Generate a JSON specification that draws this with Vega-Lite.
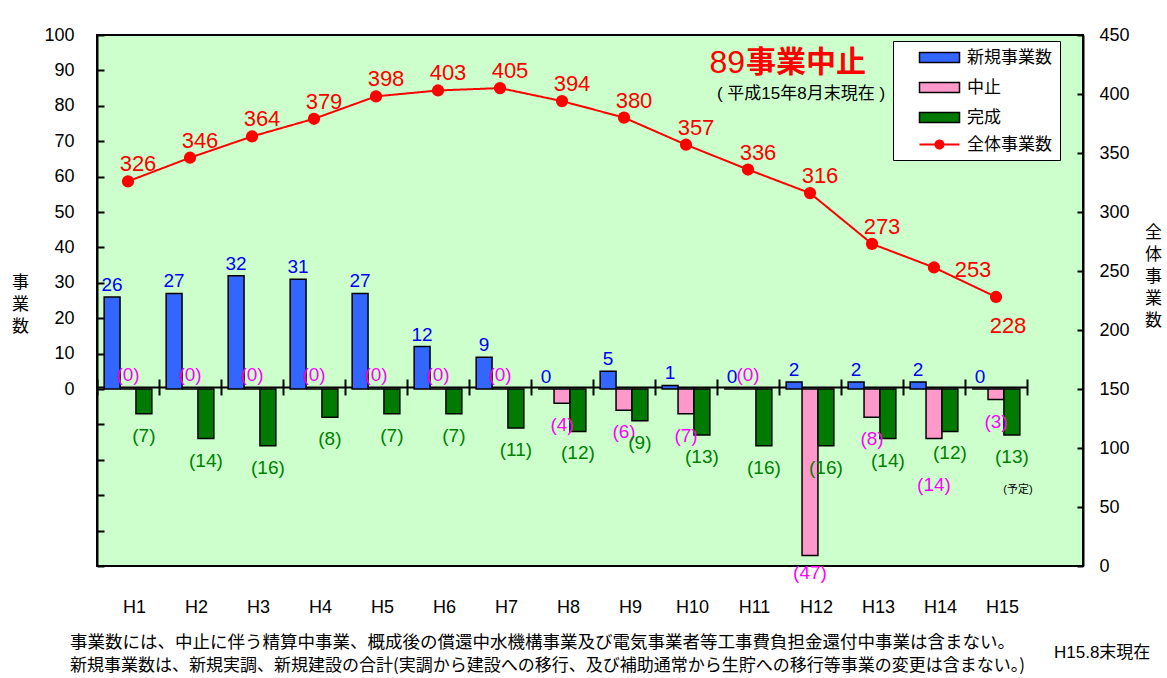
{
  "$schema": "https://vega.github.io/schema/vega-lite/v6.json",
  "width": 986,
  "height": 531,
  "autosize": "none",
  "padding": {"left": 97, "top": 35, "right": 84, "bottom": 112},
  "background": "white",
  "config": {
    "view": {"fill": "#CCFFCC", "stroke": "black", "strokeWidth": 2},
    "font": "Liberation Sans, Noto Sans CJK JP",
    "axis": {
      "grid": false,
      "domainColor": "black",
      "domainWidth": 2,
      "tickColor": "black",
      "tickWidth": 2,
      "labelColor": "black",
      "titleColor": "black",
      "labelFont": "Liberation Sans, Noto Sans CJK JP",
      "titleFont": "Noto Sans CJK JP",
      "titleFontWeight": "normal"
    },
    "text": {"font": "Liberation Sans, Noto Sans CJK JP"}
  },
  "datasets": {
    "bars": [
      {"year": "H1", "series": "新規事業数", "value": 26, "label": "26"},
      {"year": "H1", "series": "中止", "value": 0, "label": "(0)"},
      {"year": "H1", "series": "完成", "value": -7, "label": "(7)"},
      {"year": "H2", "series": "新規事業数", "value": 27, "label": "27"},
      {"year": "H2", "series": "中止", "value": 0, "label": "(0)"},
      {"year": "H2", "series": "完成", "value": -14, "label": "(14)"},
      {"year": "H3", "series": "新規事業数", "value": 32, "label": "32"},
      {"year": "H3", "series": "中止", "value": 0, "label": "(0)"},
      {"year": "H3", "series": "完成", "value": -16, "label": "(16)"},
      {"year": "H4", "series": "新規事業数", "value": 31, "label": "31"},
      {"year": "H4", "series": "中止", "value": 0, "label": "(0)"},
      {"year": "H4", "series": "完成", "value": -8, "label": "(8)"},
      {"year": "H5", "series": "新規事業数", "value": 27, "label": "27"},
      {"year": "H5", "series": "中止", "value": 0, "label": "(0)"},
      {"year": "H5", "series": "完成", "value": -7, "label": "(7)"},
      {"year": "H6", "series": "新規事業数", "value": 12, "label": "12"},
      {"year": "H6", "series": "中止", "value": 0, "label": "(0)"},
      {"year": "H6", "series": "完成", "value": -7, "label": "(7)"},
      {"year": "H7", "series": "新規事業数", "value": 9, "label": "9"},
      {"year": "H7", "series": "中止", "value": 0, "label": "(0)"},
      {"year": "H7", "series": "完成", "value": -11, "label": "(11)"},
      {"year": "H8", "series": "新規事業数", "value": 0, "label": "0"},
      {"year": "H8", "series": "中止", "value": -4, "label": "(4)"},
      {"year": "H8", "series": "完成", "value": -12, "label": "(12)"},
      {"year": "H9", "series": "新規事業数", "value": 5, "label": "5"},
      {"year": "H9", "series": "中止", "value": -6, "label": "(6)"},
      {"year": "H9", "series": "完成", "value": -9, "label": "(9)"},
      {"year": "H10", "series": "新規事業数", "value": 1, "label": "1"},
      {"year": "H10", "series": "中止", "value": -7, "label": "(7)"},
      {"year": "H10", "series": "完成", "value": -13, "label": "(13)"},
      {"year": "H11", "series": "新規事業数", "value": 0, "label": "0"},
      {"year": "H11", "series": "中止", "value": 0, "label": "(0)"},
      {"year": "H11", "series": "完成", "value": -16, "label": "(16)"},
      {"year": "H12", "series": "新規事業数", "value": 2, "label": "2"},
      {"year": "H12", "series": "中止", "value": -47, "label": "(47)"},
      {"year": "H12", "series": "完成", "value": -16, "label": "(16)"},
      {"year": "H13", "series": "新規事業数", "value": 2, "label": "2"},
      {"year": "H13", "series": "中止", "value": -8, "label": "(8)"},
      {"year": "H13", "series": "完成", "value": -14, "label": "(14)"},
      {"year": "H14", "series": "新規事業数", "value": 2, "label": "2"},
      {"year": "H14", "series": "中止", "value": -14, "label": "(14)"},
      {"year": "H14", "series": "完成", "value": -12, "label": "(12)"},
      {"year": "H15", "series": "新規事業数", "value": 0, "label": "0"},
      {"year": "H15", "series": "中止", "value": -3, "label": "(3)"},
      {"year": "H15", "series": "完成", "value": -13, "label": "(13)"}
    ],
    "totals": [
      {"year": "H1", "series": "全体事業数", "total": 326},
      {"year": "H2", "series": "全体事業数", "total": 346},
      {"year": "H3", "series": "全体事業数", "total": 364},
      {"year": "H4", "series": "全体事業数", "total": 379},
      {"year": "H5", "series": "全体事業数", "total": 398},
      {"year": "H6", "series": "全体事業数", "total": 403},
      {"year": "H7", "series": "全体事業数", "total": 405},
      {"year": "H8", "series": "全体事業数", "total": 394},
      {"year": "H9", "series": "全体事業数", "total": 380},
      {"year": "H10", "series": "全体事業数", "total": 357},
      {"year": "H11", "series": "全体事業数", "total": 336},
      {"year": "H12", "series": "全体事業数", "total": 316},
      {"year": "H13", "series": "全体事業数", "total": 273},
      {"year": "H14", "series": "全体事業数", "total": 253},
      {"year": "H15", "series": "全体事業数", "total": 228}
    ]
  },
  "layer": [
    {
      "data": {"name": "bars"},
      "encoding": {
        "x": {
          "field": "year",
          "type": "nominal",
          "sort": null,
          "scale": {
            "domain": ["H1","H2","H3","H4","H5","H6","H7","H8","H9","H10","H11","H12","H13","H14","H15"],
            "range": [0, 930],
            "paddingInner": 0,
            "paddingOuter": 0
          },
          "axis": {
            "orient": "bottom",
            "offset": -179,
            "domain": false,
            "ticks": true,
            "tickBand": "extent",
            "tickSize": 8,
            "labelPadding": 203,
            "labelOffset": 6,
            "labelFontSize": 18,
            "labelAngle": 0,
            "title": null
          }
        },
        "y": {
          "field": "value",
          "type": "quantitative",
          "stack": null,
          "scale": {"domain": [-50, 100], "nice": false},
          "axis": {
            "orient": "left",
            "values": [-50,-40,-30,-20,-10,0,10,20,30,40,50,60,70,80,90,100],
            "labelExpr": "datum.value >= 0 ? datum.label : ''",
            "tickSize": -7,
            "labelPadding": 30,
            "labelFontSize": 18,
            "title": ["事","業","数"],
            "titleAngle": 0,
            "titleAlign": "center",
            "titleBaseline": "middle",
            "titleX": -77,
            "titleY": 247,
            "titleFontSize": 17,
            "titleLineHeight": 22
          }
        }
      },
      "layer": [
        {
          "mark": {"type": "bar", "stroke": "black", "strokeWidth": 1.5},
          "encoding": {
            "xOffset": {
              "field": "series",
              "type": "nominal",
              "sort": null,
              "scale": {"domain": ["新規事業数","中止","完成"], "paddingInner": 0, "paddingOuter": 0.45}
            },
            "color": {
              "field": "series",
              "type": "nominal",
              "scale": {
                "domain": ["新規事業数","中止","完成"],
                "range": ["#3366FF","#FF99CC","#007A00"]
              },
              "legend": {
                "orient": "none",
                "legendX": 796,
                "legendY": 6,
                "title": " ",
                "titleOrient": "bottom",
                "titleFontSize": 16,
                "titlePadding": 10,
                "fillColor": "white",
                "strokeColor": "black",
                "padding": 8,
                "labelFontSize": 17,
                "labelFont": "Noto Sans CJK JP",
                "labelColor": "black",
                "rowPadding": 12,
                "symbolType": "M-1,-1H7V1H-1Z",
                "symbolSize": 100,
                "symbolOffset": 15,
                "labelOffset": 34,
                "symbolStrokeColor": "black",
                "symbolStrokeWidth": 1.5,
                "symbolOpacity": 1
              }
            }
          }
        },
        {
          "transform": [{"filter": "datum.series === '新規事業数'"}],
          "mark": {"type": "text", "baseline": "alphabetic", "dy": -6, "fontSize": 19, "color": "#0000FF"},
          "encoding": {
            "xOffset": {"field": "series", "type": "nominal", "sort": null},
            "text": {"field": "label"}
          }
        },
        {
          "transform": [{"filter": "datum.series === '中止' && datum.value === 0"}],
          "mark": {"type": "text", "baseline": "alphabetic", "dy": -8, "fontSize": 19, "color": "#FF00FF"},
          "encoding": {
            "xOffset": {"field": "series", "type": "nominal", "sort": null},
            "text": {"field": "label"}
          }
        },
        {
          "transform": [{"filter": "datum.series === '中止' && datum.value < 0 && datum.year !== 'H14' && datum.year !== 'H12'"}],
          "mark": {"type": "text", "baseline": "alphabetic", "dy": 28, "fontSize": 19, "color": "#FF00FF"},
          "encoding": {
            "xOffset": {"field": "series", "type": "nominal", "sort": null},
            "text": {"field": "label"}
          }
        },
        {
          "transform": [{"filter": "datum.series === '中止' && datum.year === 'H12'"}],
          "mark": {"type": "text", "baseline": "alphabetic", "dy": 24, "fontSize": 19, "color": "#FF00FF"},
          "encoding": {
            "xOffset": {"field": "series", "type": "nominal", "sort": null},
            "text": {"field": "label"}
          }
        },
        {
          "transform": [{"filter": "datum.series === '中止' && datum.year === 'H14'"}],
          "mark": {"type": "text", "baseline": "alphabetic", "dy": 52, "fontSize": 19, "color": "#FF00FF"},
          "encoding": {
            "xOffset": {"field": "series", "type": "nominal", "sort": null},
            "text": {"field": "label"}
          }
        },
        {
          "transform": [{"filter": "datum.series === '完成'"}],
          "mark": {"type": "text", "baseline": "alphabetic", "dy": 28, "fontSize": 19, "color": "#008000"},
          "encoding": {
            "xOffset": {"field": "series", "type": "nominal", "sort": null},
            "text": {"field": "label"}
          }
        },
        {
          "transform": [{"filter": "datum.year === 'H11' && datum.series === '新規事業数'"}],
          "mark": {"type": "text", "text": "89", "align": "right", "baseline": "middle", "fontSize": 32, "color": "#FF0000", "dx": -3},
          "encoding": {"y": {"datum": 92}}
        },
        {
          "transform": [{"filter": "datum.year === 'H11' && datum.series === '新規事業数'"}],
          "mark": {"type": "text", "text": "事業中止", "align": "left", "baseline": "middle", "fontSize": 30, "fontWeight": "bold", "font": "Noto Sans CJK JP", "color": "#FF0000", "dx": -2},
          "encoding": {"y": {"datum": 92}}
        },
        {
          "transform": [{"filter": "datum.year === 'H12' && datum.series === '新規事業数'"}],
          "mark": {"type": "text", "text": "( 平成15年8月末現在 )", "align": "center", "baseline": "middle", "fontSize": 17, "color": "black", "dx": -9},
          "encoding": {"y": {"datum": 83.3}}
        },
        {
          "transform": [{"filter": "datum.year === 'H15' && datum.series === '新規事業数'"}],
          "mark": {"type": "text", "text": "(予定)", "align": "center", "baseline": "middle", "fontSize": 11, "color": "black", "dx": 22},
          "encoding": {"y": {"datum": -28.5}}
        },
        {
          "transform": [{"filter": "datum.year === 'H1' && datum.series === '新規事業数'"}],
          "mark": {
            "type": "text",
            "text": "事業数には、中止に伴う精算中事業、概成後の償還中水機構事業及び電気事業者等工事費負担金還付中事業は含まない。",
            "align": "left",
            "baseline": "middle",
            "fontSize": 17.5,
            "font": "Noto Sans CJK JP",
            "color": "black",
            "dx": -58
          },
          "encoding": {"y": {"datum": -71.8}}
        },
        {
          "transform": [{"filter": "datum.year === 'H1' && datum.series === '新規事業数'"}],
          "mark": {
            "type": "text",
            "text": "新規事業数は、新規実調、新規建設の合計(実調から建設への移行、及び補助通常から生貯への移行等事業の変更は含まない。)",
            "align": "left",
            "baseline": "middle",
            "fontSize": 17,
            "font": "Noto Sans CJK JP",
            "color": "black",
            "dx": -58
          },
          "encoding": {"y": {"datum": -78.3}}
        },
        {
          "transform": [{"filter": "datum.year === 'H15' && datum.series === '新規事業数'"}],
          "mark": {"type": "text", "text": "H15.8末現在", "align": "left", "baseline": "middle", "fontSize": 17, "color": "black", "dx": 58},
          "encoding": {"y": {"datum": -74.6}}
        }
      ]
    },
    {
      "data": {"name": "totals"},
      "encoding": {
        "x": {
          "field": "year",
          "type": "nominal",
          "sort": null,
          "axis": {
            "orient": "top",
            "offset": -352,
            "domain": true,
            "ticks": true,
            "tickBand": "extent",
            "tickSize": 8,
            "labels": false,
            "title": null
          }
        },
        "y": {
          "field": "total",
          "type": "quantitative",
          "scale": {"domain": [0, 450], "nice": false},
          "axis": {
            "orient": "right",
            "values": [0,50,100,150,200,250,300,350,400,450],
            "tickSize": -6,
            "labelPadding": 22,
            "labelFontSize": 18,
            "title": ["全","体","事","業","数"],
            "titleAngle": 0,
            "titleAlign": "center",
            "titleBaseline": "middle",
            "titleX": 70,
            "titleY": 197,
            "titleFontSize": 17,
            "titleLineHeight": 22
          }
        }
      },
      "layer": [
        {
          "mark": {"type": "line", "strokeWidth": 2, "color": "#FF0000"},
          "encoding": {
            "strokeDash": {
              "field": "series",
              "type": "nominal",
              "scale": {"domain": ["全体事業数"], "range": [[1, 0]]},
              "legend": {
                "orient": "none",
                "legendX": 796,
                "legendY": 93,
                "title": null,
                "padding": 8,
                "labelFontSize": 17,
                "labelFont": "Noto Sans CJK JP",
                "labelColor": "black",
                "symbolType": "M-1,0H7M2.2,0A0.8,0.8 0 1 1 3.8,0A0.8,0.8 0 1 1 2.2,0Z",
                "symbolSize": 100,
                "symbolOffset": 15,
                "labelOffset": 34,
                "symbolStrokeColor": "#FF0000",
                "symbolFillColor": "#FF0000",
                "symbolStrokeWidth": 2,
                "symbolOpacity": 1
              }
            }
          }
        },
        {
          "mark": {"type": "point", "filled": true, "size": 150, "color": "#FF0000", "opacity": 1}
        },
        {
          "transform": [{"filter": "datum.year !== 'H14' && datum.year !== 'H15'"}],
          "mark": {"type": "text", "baseline": "alphabetic", "dx": 10, "dy": -10, "fontSize": 22, "color": "#FF0000"},
          "encoding": {"text": {"field": "total"}}
        },
        {
          "transform": [{"filter": "datum.year === 'H14'"}],
          "mark": {"type": "text", "baseline": "alphabetic", "dx": 39, "dy": 10, "fontSize": 22, "color": "#FF0000"},
          "encoding": {"text": {"field": "total"}}
        },
        {
          "transform": [{"filter": "datum.year === 'H15'"}],
          "mark": {"type": "text", "baseline": "alphabetic", "dx": 12, "dy": 36, "fontSize": 22, "color": "#FF0000"},
          "encoding": {"text": {"field": "total"}}
        }
      ]
    }
  ],
  "resolve": {
    "scale": {"y": "independent"},
    "axis": {"y": "independent", "x": "independent"}
  }
}
